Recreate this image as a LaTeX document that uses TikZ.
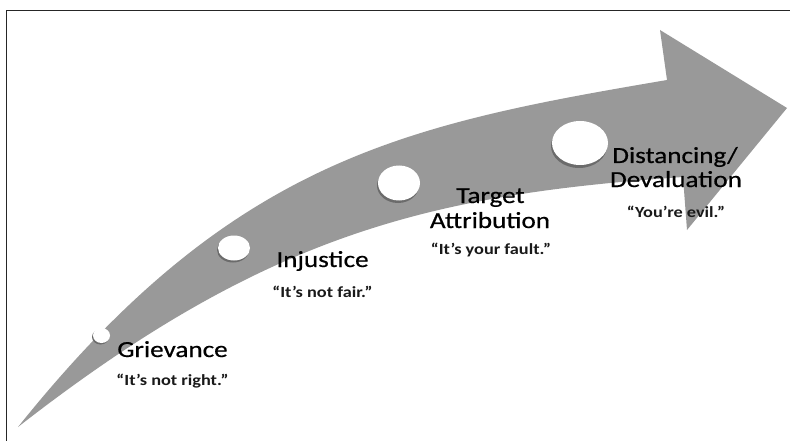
\documentclass[tikz,border=0pt]{standalone}
\usepackage{fontspec}
\setmainfont{Carlito}
\newfontfamily\headfont{Carlito}[FakeBold=0.5]
\newcommand\sxw[1]{\scalebox{1.18}[1]{#1}}
\tikzset{
  arrowgray/.style={fill=black!40},
  dot/.style={fill=white},
  dotshadow/.style={fill=black!58},
  head/.style={anchor=base, inner sep=0pt, font=\headfont\fontsize{23}{23}\selectfont, text=black},
  quote/.style={anchor=base, inner sep=0pt, font=\fontsize{15.5}{15.5}\selectfont\bfseries, text=black!90},
  frameline/.style={draw=black!85, line width=1.2pt}
}
\begin{document}
\begin{tikzpicture}[x=1pt,y=-1pt]
\useasboundingbox (0,0) rectangle (790,441);
\fill[white] (0,0) rectangle (790,441);
% frame
\coordinate (fTL) at (6.5,10.5);
\coordinate (fTR) at (790,10.5);
\coordinate (fBL) at (6.5,441);
\draw[frameline] (fTR) -- (fTL) -- (fBL);
% arrow
\fill[arrowgray]
  (18,427) .. controls (233,158.25) and (407,124.2) .. (667,80)
  -- (660,30) -- (787,108) -- (687,230) -- (683,177)
  .. controls (433,194.5) and (268,232) .. (18,427)
  -- cycle;
% dots
\fill[dotshadow] (100.5,337) ellipse [x radius=8.5, y radius=7.5];
\fill[dot] (101.5,335.5) ellipse [x radius=8.5, y radius=7.5];
\node[inner sep=0pt, minimum size=0pt] (d1) at (101.5,335.5) {};
\fill[dotshadow] (233,250) ellipse [x radius=16, y radius=12.5];
\fill[dot] (234,248) ellipse [x radius=16, y radius=12.5];
\node[inner sep=0pt, minimum size=0pt] (d2) at (234,248) {};
\fill[dotshadow] (398,185.5) ellipse [x radius=21, y radius=17.5];
\fill[dot] (399,183) ellipse [x radius=21, y radius=17.5];
\node[inner sep=0pt, minimum size=0pt] (d3) at (399,183) {};
\fill[dotshadow] (579,146) ellipse [x radius=28, y radius=22];
\fill[dot] (580,143) ellipse [x radius=28, y radius=22];
\node[inner sep=0pt, minimum size=0pt] (d4) at (580,143) {};
% labels
\node[head] (g) at (172.5,357) {\sxw{Grievance}};
\node[quote] (gq) at (172.5,385) {\sxw{“It’s not right.”}};
\node[head] (i) at (322.5,267) {\sxw{Injustice}};
\node[quote] (iq) at (322.5,297) {\sxw{“It’s not fair.”}};
\node[head] (t1) at (490.5,203) {\sxw{Target}};
\node[head] (t2) at (490,228) {\sxw{Attribution}};
\node[quote] (tq) at (491,254) {\sxw{“It’s your fault.”}};
\node[head] (s1) at (675,163) {\sxw{Distancing/}};
\node[head] (s2) at (676,187) {\sxw{Devaluation}};
\node[quote] (sq) at (676,217) {\sxw{“You’re evil.”}};
\end{tikzpicture}
\end{document}
